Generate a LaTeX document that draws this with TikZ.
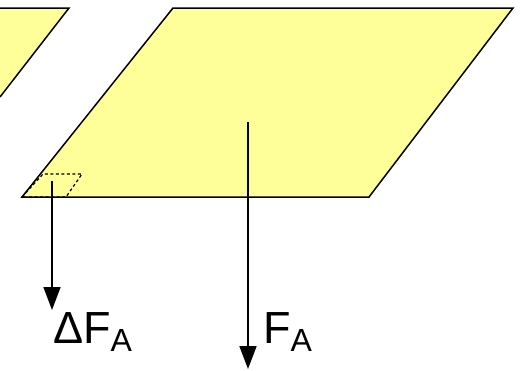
\documentclass[tikz,border=0pt]{standalone}
\usepackage{fontspec}
\setmainfont{Liberation Sans}
\usetikzlibrary{arrows.meta}
\definecolor{plate}{HTML}{FFFF99}
\tikzset{
  plateedge/.style={draw=black, line width=1.5pt, line join=miter, fill=plate},
  force/.style={line width=1.7pt, -{Triangle[width=17pt,length=23pt]}},
  lbl/.style={inner sep=0pt, anchor=base west, font=\fontsize{45}{54}\selectfont},
}
\newcommand{\subA}{\raisebox{-8pt}{\fontsize{32}{38}\selectfont A}}
\begin{document}
\begin{tikzpicture}[x=1pt,y=-1pt]
\useasboundingbox (0,0) rectangle (522,370);
% left partial plate
\fill[plate] (0,8) -- (69,8) -- (0,97) -- cycle;
\draw[line width=1.5pt] (0,8) -- (69,8) -- (0,97);
% main plate
\path[plateedge] (22,197) -- (173,8) -- (513,8) -- (369,197) -- cycle;
% small element
\draw[line width=1.2pt, dash pattern=on 3pt off 2.5pt] (22,197) -- (43,174) -- (82,174) -- (66,197) -- cycle;
% forces
\coordinate (s0) at (52,181);
\coordinate (s1) at (52,310);
\coordinate (b0) at (248,122);
\coordinate (b1) at (248,369);
\draw[force] (s0) -- (s1);
\draw[force] (b0) -- (b1);
\node[lbl] (dfa) at (53,343) {ΔF\subA};
\node[lbl] (fa) at (263,343) {F\subA};
\end{tikzpicture}
\end{document}
